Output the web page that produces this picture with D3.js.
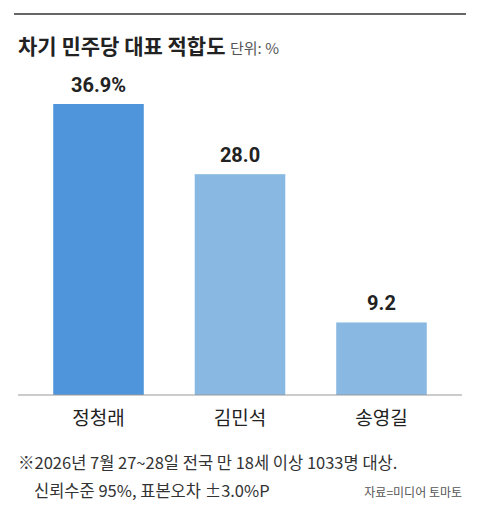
<!DOCTYPE html>
<html><head><meta charset="utf-8">
<script src="https://cdn.jsdelivr.net/npm/d3@7"></script>
<style>body{margin:0;background:#fff;font-family:"Noto Sans CJK KR","Noto Sans",sans-serif}</style>
</head><body><svg id="c" width="480" height="523"></svg>
<script>
const categories = ["정청래", "김민석", "송영길"];
const values = [36.9, 28.0, 9.2];
const valueLabels = ["36.9%", "28.0", "9.2"];
const barColors = ["#4e95dc", "#89b9e2", "#89b9e2"];

const svg = d3.select("#c");
const x = d3.scaleBand().domain(categories).range([18, 462]).paddingInner(0.36).paddingOuter(0.249);
const y = d3.scaleLinear().domain([0, 36.9]).range([395, 104]);

svg.append("line").attr("x1", 14).attr("x2", 466).attr("y1", 14).attr("y2", 14).attr("stroke", "#333").attr("stroke-width", 1.5);
svg.append("text").attr("x", 18).attr("y", 54).attr("font-size", 21).attr("font-weight", 700).attr("fill", "#222").text("차기 민주당 대표 적합도");
svg.append("text").attr("x", 230).attr("y", 54).attr("font-size", 15).attr("fill", "#555").text("단위: %");

svg.selectAll("rect.bar").data(values).join("rect").attr("class", "bar")
  .attr("x", (d, i) => x(categories[i])).attr("width", x.bandwidth())
  .attr("y", d => y(d)).attr("height", d => y(0) - y(d))
  .attr("fill", (d, i) => barColors[i]);

svg.selectAll("text.val").data(values).join("text").attr("class", "val")
  .attr("x", (d, i) => x(categories[i]) + x.bandwidth() / 2).attr("y", d => y(d) - 12)
  .attr("text-anchor", "middle").attr("font-size", 20).attr("font-weight", 700).attr("fill", "#222")
  .attr("font-family", "Roboto, sans-serif")
  .text((d, i) => valueLabels[i]);

svg.append("line").attr("x1", 18).attr("x2", 462).attr("y1", 395).attr("y2", 395).attr("stroke", "#999");

svg.selectAll("text.cat").data(categories).join("text").attr("class", "cat")
  .attr("x", d => x(d) + x.bandwidth() / 2).attr("y", 425)
  .attr("text-anchor", "middle").attr("font-size", 19).attr("fill", "#222").text(d => d);

svg.append("text").attr("x", 18).attr("y", 469).attr("font-size", 16.5).attr("fill", "#333")
  .text("※2026년 7월 27~28일 전국 만 18세 이상 1033명 대상.");
svg.append("text").attr("x", 34).attr("y", 497).attr("font-size", 16.5).attr("fill", "#333")
  .text("신뢰수준 95%, 표본오차 ±3.0%P");
svg.append("text").attr("x", 462).attr("y", 497).attr("text-anchor", "end").attr("font-size", 12).attr("fill", "#555")
  .text("자료=미디어 토마토");
</script></body></html>
